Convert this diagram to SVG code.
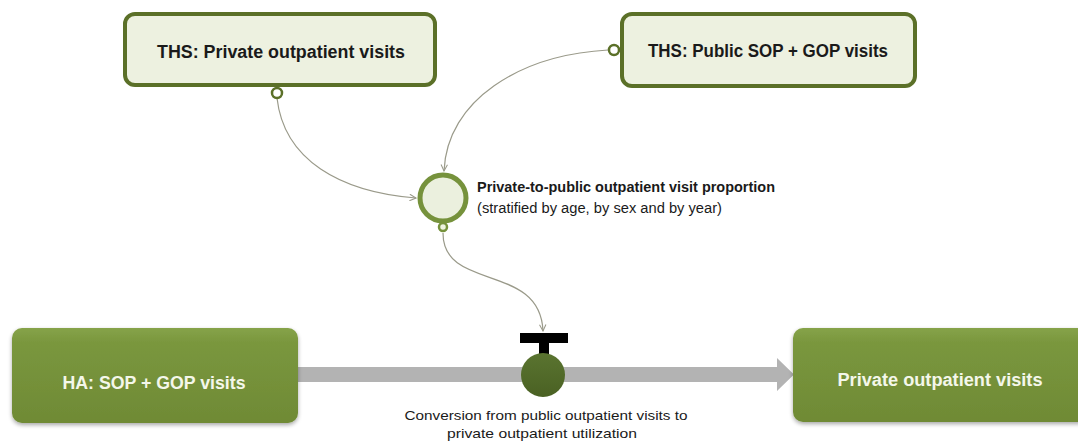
<svg xmlns="http://www.w3.org/2000/svg" width="1078" height="443" viewBox="0 0 1078 443">
  <defs>
    <linearGradient id="gBox" x1="0" y1="0" x2="0" y2="1">
      <stop offset="0" stop-color="#86a349"/>
      <stop offset="0.15" stop-color="#7a973e"/>
      <stop offset="1" stop-color="#6f8a35"/>
    </linearGradient>
    <linearGradient id="gValve" x1="0" y1="0" x2="0" y2="1">
      <stop offset="0" stop-color="#5a7430"/>
      <stop offset="1" stop-color="#4a6123"/>
    </linearGradient>
    <filter id="shadow" x="-10%" y="-10%" width="120%" height="130%">
      <feGaussianBlur in="SourceAlpha" stdDeviation="2"/>
      <feOffset dx="0" dy="2" result="b"/>
      <feComponentTransfer><feFuncA type="linear" slope="0.35"/></feComponentTransfer>
      <feMerge><feMergeNode/><feMergeNode in="SourceGraphic"/></feMerge>
    </filter>
    <marker id="arr" viewBox="0 0 10 10" refX="9" refY="5" markerWidth="8" markerHeight="8" orient="auto" markerUnits="userSpaceOnUse">
      <path d="M1,1 L9,5 L1,9" fill="none" stroke="#9a9a8a" stroke-width="1.3"/>
    </marker>
  </defs>
  <style>
    .topbox { fill: #edf1e0; stroke: #5b7028; stroke-width: 4; }
    .botbox { fill: url(#gBox); filter: url(#shadow); }
    .port { fill: #ffffff; stroke: #5b7028; stroke-width: 2.5; }
    .conn { fill: none; stroke: #9a9a8a; stroke-width: 1.2; }
    .tb { font-family: "Liberation Sans", Arial, sans-serif; font-weight: bold; font-size: 18px; fill: #1a1a1a; }
    .wb { font-family: "Liberation Sans", Arial, sans-serif; font-weight: bold; font-size: 18px; fill: #f4f7ea; }
    .lb { font-family: "Liberation Sans", Arial, sans-serif; font-weight: bold; font-size: 14px; fill: #1a1a1a; }
    .ln { font-family: "Liberation Sans", Arial, sans-serif; font-size: 14px; fill: #1a1a1a; }
    .cap { font-family: "Liberation Sans", Arial, sans-serif; font-size: 13.5px; fill: #1a1a1a; }
  </style>
  <rect width="1078" height="443" fill="#ffffff"/>

  <g id="connectors">
    <path d="M298,367 L777,367 L777,358 L794,374.5 L777,391 L777,382 L298,382 Z" fill="#b3b3b3"/>
    <path class="conn" d="M277,98 C284,160 340,192 416,198" marker-end="url(#arr)"/>
    <path class="conn" d="M608,50 C520,55 447,100 444,171" marker-end="url(#arr)"/>
    <path class="conn" d="M443,233 C443,292 540,262 543,331" marker-end="url(#arr)"/>
  </g>

  <g id="ths-private">
    <rect class="topbox" x="125" y="14" width="310" height="71" rx="10"/>
    <text class="tb" x="281" y="58" text-anchor="middle" textLength="248" lengthAdjust="spacingAndGlyphs">THS: Private outpatient visits</text>
    <circle class="port" cx="277" cy="93" r="5"/>
  </g>

  <g id="ths-public">
    <rect class="topbox" x="622" y="14" width="293" height="72" rx="10"/>
    <text class="tb" x="768" y="57" text-anchor="middle" textLength="240" lengthAdjust="spacingAndGlyphs">THS: Public SOP + GOP visits</text>
    <circle class="port" cx="614" cy="50" r="5"/>
  </g>

  <g id="proportion">
    <circle cx="443" cy="198" r="23" fill="#ebf0de" stroke="#76923c" stroke-width="5"/>
    <circle cx="443" cy="227" r="4" fill="#eef3e0" stroke="#76923c" stroke-width="2.5"/>
    <text class="lb" x="477" y="192" textLength="298" lengthAdjust="spacingAndGlyphs">Private-to-public outpatient visit proportion</text>
    <text class="ln" x="477" y="213" textLength="245" lengthAdjust="spacingAndGlyphs">(stratified by age, by sex and by year)</text>
  </g>

  <g id="ha-visits">
    <rect class="botbox" x="12" y="328" width="286" height="95" rx="10"/>
    <text class="wb" x="154" y="389" text-anchor="middle" textLength="183" lengthAdjust="spacingAndGlyphs">HA: SOP + GOP visits</text>
  </g>

  <g id="conversion">
    <rect x="520" y="333" width="48" height="10" fill="#000000"/>
    <rect x="539" y="342" width="10" height="12" fill="#000000"/>
    <circle cx="543" cy="375" r="22" fill="url(#gValve)"/>
    <text class="cap" x="546" y="420" text-anchor="middle" textLength="283" lengthAdjust="spacingAndGlyphs">Conversion from public outpatient visits to</text>
    <text class="cap" x="542" y="438" text-anchor="middle" textLength="190" lengthAdjust="spacingAndGlyphs">private outpatient utilization</text>
  </g>

  <g id="private-visits">
    <rect class="botbox" x="793" y="328" width="295" height="94" rx="10"/>
    <text class="wb" x="940" y="386" text-anchor="middle" textLength="205" lengthAdjust="spacingAndGlyphs">Private outpatient visits</text>
  </g>
</svg>
